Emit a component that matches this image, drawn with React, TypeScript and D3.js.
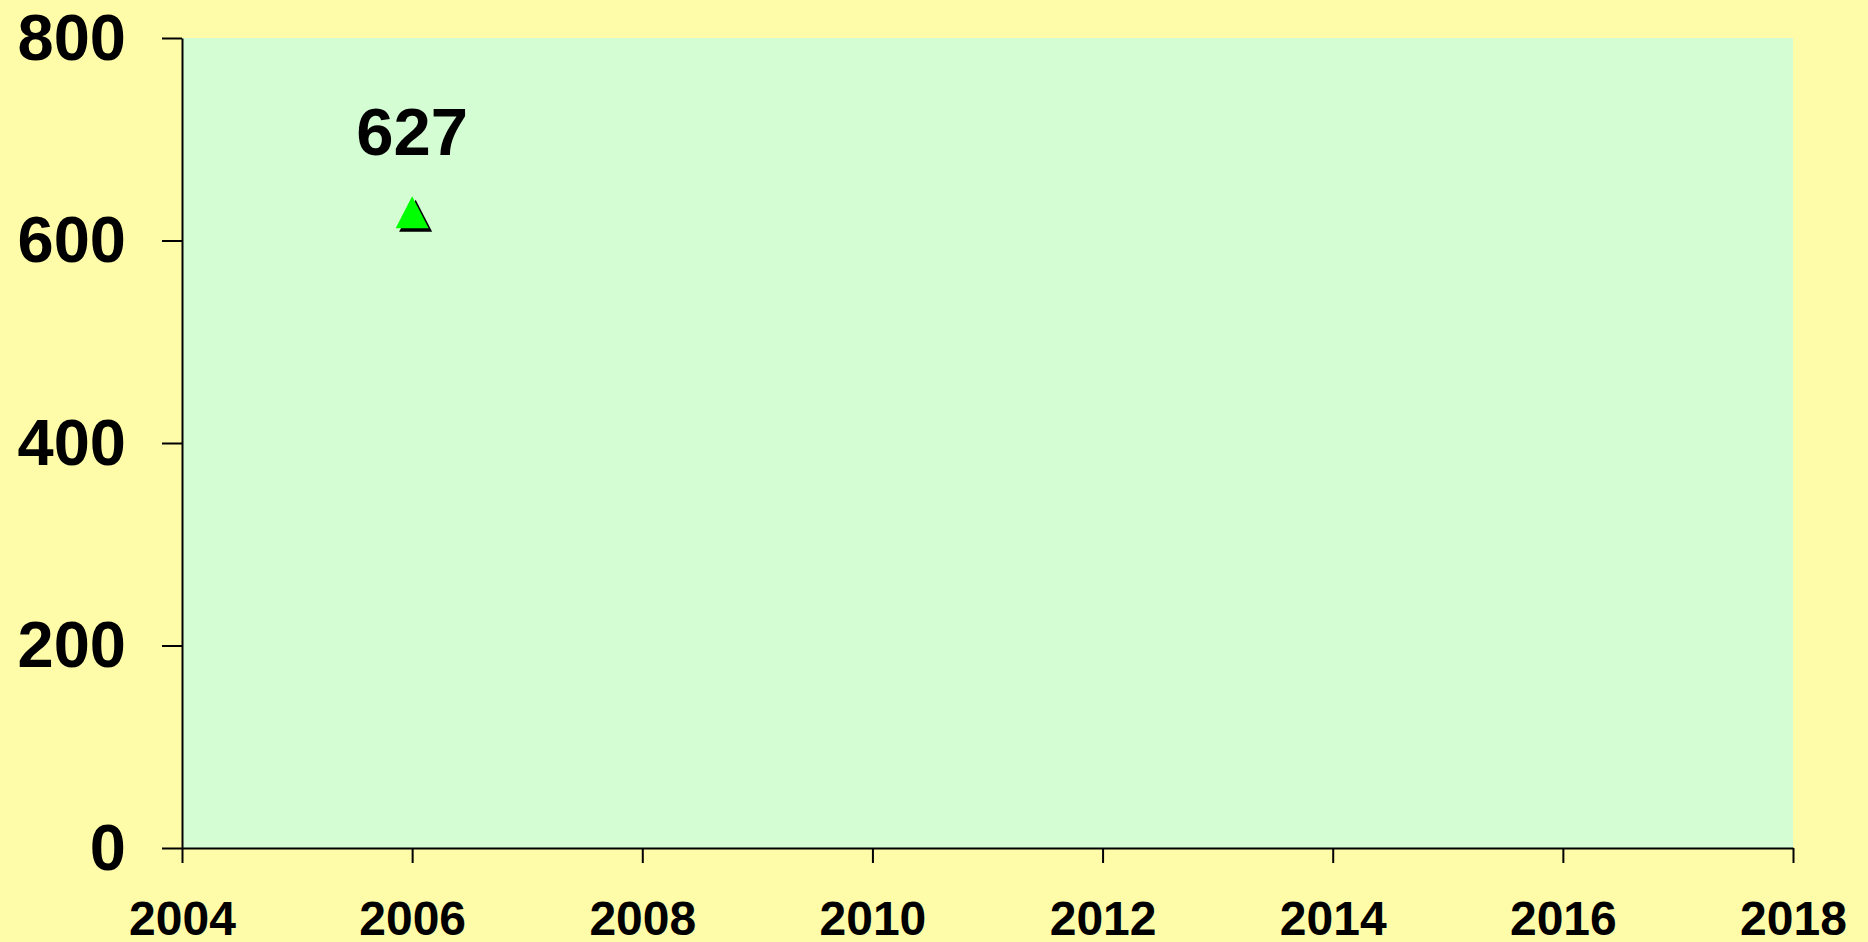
import { useEffect, useRef } from 'react'
import * as d3 from 'd3'

const years = [2006]
const values = [627]
const xTicks = [2004, 2006, 2008, 2010, 2012, 2014, 2016, 2018]
const yTicks = [0, 200, 400, 600, 800]

const W = 1868
const H = 942

export default function App() {
  const svgRef = useRef<SVGSVGElement>(null)

  useEffect(() => {
    document.body.style.margin = '0'
    if (!svgRef.current) return
    const margin = { top: 38, right: 75, bottom: 94, left: 182 }
    const innerWidth = W - margin.left - margin.right
    const innerHeight = H - margin.top - margin.bottom

    const svg = d3.select(svgRef.current)
    svg.selectAll('*').remove()

    svg.append('rect')
      .attr('width', W)
      .attr('height', H)
      .attr('fill', '#FFFCA9')

    const g = svg.append('g')
      .attr('transform', `translate(${margin.left},${margin.top})`)

    const x = d3.scaleLinear().domain([2004, 2018]).range([0, innerWidth])
    const y = d3.scaleLinear().domain([0, 800]).range([innerHeight, 0])

    g.append('rect')
      .attr('width', innerWidth)
      .attr('height', innerHeight)
      .attr('fill', '#D4FDD4')

    const font = '"Liberation Sans", Arial, sans-serif'

    const yAxis = g.append('g')
      .call(d3.axisLeft(y).tickValues(yTicks).tickSize(20).tickSizeOuter(0).tickPadding(36).tickFormat(d3.format('d')))
    yAxis.selectAll('path, line').attr('stroke', '#000').attr('stroke-width', 2)
    yAxis.selectAll('text')
      .attr('fill', '#000')
      .attr('dy', '0.33em')
      .style('font-family', font)
      .style('font-weight', 'bold')
      .style('font-size', '65px')

    const xAxis = g.append('g')
      .attr('transform', `translate(0,${innerHeight})`)
      .call(d3.axisBottom(x).tickValues(xTicks).tickSize(15).tickSizeOuter(0).tickPadding(38).tickFormat(d3.format('d')))
    xAxis.selectAll('path, line').attr('stroke', '#000').attr('stroke-width', 2)
    xAxis.selectAll('text')
      .attr('fill', '#000')
      .style('font-family', font)
      .style('font-weight', 'bold')
      .style('font-size', '48px')

    const tri = (cx: number, cy: number) =>
      `M${cx},${cy - 17}L${cx + 16.5},${cy + 15}L${cx - 16.5},${cy + 15}Z`

    const pts = years.map((yr, i) => ({ yr, v: values[i] }))

    g.selectAll('.shadow')
      .data(pts)
      .join('path')
      .attr('class', 'shadow')
      .attr('d', d => tri(x(d.yr) + 3.5, y(d.v) + 3.5))
      .attr('fill', '#000')

    g.selectAll('.marker')
      .data(pts)
      .join('path')
      .attr('class', 'marker')
      .attr('d', d => tri(x(d.yr), y(d.v)))
      .attr('fill', '#00FF00')

    g.selectAll('.label')
      .data(pts)
      .join('text')
      .attr('class', 'label')
      .attr('x', d => x(d.yr))
      .attr('y', d => y(d.v) - 58)
      .attr('text-anchor', 'middle')
      .attr('fill', '#000')
      .style('font-family', font)
      .style('font-weight', 'bold')
      .style('font-size', '67px')
      .text(d => String(d.v))
  }, [])

  return <svg ref={svgRef} width={W} height={H} style={{ display: 'block' }} />
}
